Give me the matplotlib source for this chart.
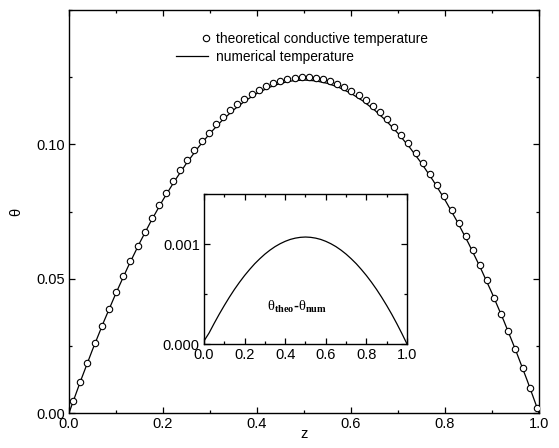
import matplotlib
matplotlib.use("Agg")
import matplotlib.pyplot as plt
from matplotlib.legend_handler import HandlerLine2D
from matplotlib.lines import Line2D
from matplotlib.ticker import FixedLocator, MultipleLocator

plt.rcParams["font.family"] = ["Liberation Sans", "DejaVu Sans"]
plt.rcParams["mathtext.fontset"] = "custom"
plt.rcParams["mathtext.rm"] = "Liberation Serif"
plt.rcParams["mathtext.bf"] = "Liberation Serif:bold"
plt.rcParams["mathtext.it"] = "Liberation Serif:italic"

# theoretical conductive profile (circles)
z_theo = [0.009, 0.024, 0.039, 0.055, 0.070, 0.085, 0.100, 0.115, 0.130, 0.146,
          0.161, 0.176, 0.191, 0.206, 0.222, 0.237, 0.252, 0.267, 0.282, 0.297,
          0.313, 0.328, 0.343, 0.358, 0.373, 0.389, 0.404, 0.419, 0.434, 0.449,
          0.464, 0.480, 0.495, 0.510, 0.525, 0.540, 0.556, 0.571, 0.586, 0.601,
          0.616, 0.631, 0.647, 0.662, 0.677, 0.692, 0.707, 0.722, 0.738, 0.753,
          0.768, 0.783, 0.798, 0.814, 0.829, 0.844, 0.859, 0.874, 0.889, 0.905,
          0.920, 0.935, 0.950, 0.965, 0.981, 0.996]
theta_theo = [0.00446, 0.01171, 0.01874, 0.02599, 0.03255, 0.03889, 0.04500, 0.05089,
              0.05655, 0.06234, 0.06754, 0.07251, 0.07726, 0.08178, 0.08636, 0.09042,
              0.09425, 0.09786, 0.10124, 0.10440, 0.10752, 0.11021, 0.11268, 0.11492,
              0.11694, 0.11884, 0.12039, 0.12172, 0.12282, 0.12370, 0.12435, 0.12480,
              0.12499, 0.12495, 0.12469, 0.12420, 0.12343, 0.12248, 0.12130, 0.11990,
              0.11827, 0.11642, 0.11420, 0.11188, 0.10934, 0.10657, 0.10358, 0.10036,
              0.09668, 0.09300, 0.08909, 0.08496, 0.08060, 0.07570, 0.07088, 0.06583,
              0.06056, 0.05506, 0.04934, 0.04299, 0.03680, 0.03039, 0.02375, 0.01689,
              0.00932, 0.00199]

# numerical solution and difference, sampled on the solver grid
z_num = [0.000, 0.025, 0.050, 0.075, 0.100, 0.125, 0.150, 0.175, 0.200, 0.225,
         0.250, 0.275, 0.300, 0.325, 0.350, 0.375, 0.400, 0.425, 0.450, 0.475,
         0.500, 0.525, 0.550, 0.575, 0.600, 0.625, 0.650, 0.675, 0.700, 0.725,
         0.750, 0.775, 0.800, 0.825, 0.850, 0.875, 0.900, 0.925, 0.950, 0.975, 1.000]
theta_num = [0.00000, 0.01208, 0.02355, 0.03439, 0.04462, 0.05422, 0.06320, 0.07157,
             0.07932, 0.08644, 0.09295, 0.09883, 0.10410, 0.10875, 0.11278, 0.11619,
             0.11897, 0.12114, 0.12269, 0.12362, 0.12393, 0.12362, 0.12269, 0.12114,
             0.11897, 0.11619, 0.11278, 0.10875, 0.10410, 0.09883, 0.09295, 0.08644,
             0.07932, 0.07157, 0.06320, 0.05422, 0.04462, 0.03439, 0.02355, 0.01208,
             0.00000]
theta_diff = [0.000030, 0.000110, 0.000206, 0.000298, 0.000385, 0.000468, 0.000546,
              0.000618, 0.000685, 0.000746, 0.000803, 0.000853, 0.000899, 0.000939,
              0.000974, 0.001003, 0.001027, 0.001046, 0.001059, 0.001067, 0.001070,
              0.001067, 0.001059, 0.001046, 0.001027, 0.001003, 0.000974, 0.000939,
              0.000899, 0.000853, 0.000803, 0.000746, 0.000685, 0.000618, 0.000546,
              0.000468, 0.000385, 0.000297, 0.000203, 0.000104, 0.000000]

main_xticks = [0.0, 0.2, 0.4, 0.6, 0.8, 1.0]
main_yticks = [0.00, 0.05, 0.10]
inset_yticks = [0.000, 0.001]


class RightMarkerHandler(HandlerLine2D):
    """Put the single legend marker near the right end of the handle."""

    def get_xdata(self, legend, xdescent, ydescent, width, height, fontsize):
        m = -xdescent + width - 0.15 * fontsize
        return [m - 1.0, m + 1.0], [m]


def style_axes(ax, fs):
    ax.tick_params(which="both", direction="in", top=True, right=True,
                   labelsize=fs, width=0.9, pad=3)
    ax.tick_params(which="major", length=4.5)
    ax.tick_params(which="minor", length=2.5)
    for sp in ax.spines.values():
        sp.set_linewidth(1.0)


fig = plt.figure(figsize=(5.59, 4.48), dpi=100)
ax = fig.add_axes([0.1234, 0.0781, 0.8408, 0.8996])

ax.plot(z_theo, theta_theo, linestyle="none", marker="o", markersize=4.6,
        markerfacecolor="white", markeredgecolor="black", markeredgewidth=0.8,
        zorder=3)
ax.plot(z_num, theta_num, color="black", linewidth=0.9, zorder=2)

ax.set_xlim(0, 1)
ax.set_ylim(0, 0.15)
ax.xaxis.set_major_locator(FixedLocator(main_xticks))
ax.xaxis.set_minor_locator(MultipleLocator(0.1))
ax.yaxis.set_major_locator(FixedLocator(main_yticks))
ax.yaxis.set_minor_locator(MultipleLocator(0.025))
ax.set_xticklabels([f"{v:.1f}" for v in main_xticks])
ax.set_yticklabels([f"{v:.2f}" for v in main_yticks])
style_axes(ax, 10.5)
ax.set_xlabel("z", fontsize=10.5, labelpad=-3)
ax.set_ylabel("θ", fontsize=10.5, labelpad=9)

h_theo = Line2D([], [], linestyle="none", marker="o", markersize=4.6,
                markerfacecolor="white", markeredgecolor="black", markeredgewidth=0.8)
h_num = Line2D([], [], color="black", linewidth=0.9)
ax.legend([h_theo, h_num],
          ["theoretical conductive temperature", "numerical temperature"],
          loc="upper left", bbox_to_anchor=(0.2277, 0.945), frameon=False,
          fontsize=9.9, handlelength=2.3, handletextpad=0.6, labelspacing=0.28,
          borderpad=0, borderaxespad=0, numpoints=1,
          handler_map={h_theo: RightMarkerHandler(numpoints=1)})

# inset: theoretical minus numerical
axi = fig.add_axes([0.3649, 0.2321, 0.3632, 0.3348])
axi.plot(z_num, theta_diff, color="black", linewidth=0.9)
axi.set_xlim(0, 1)
axi.set_ylim(0, 0.0015)
axi.xaxis.set_major_locator(FixedLocator(main_xticks))
axi.xaxis.set_minor_locator(MultipleLocator(0.1))
axi.yaxis.set_major_locator(FixedLocator(inset_yticks))
axi.yaxis.set_minor_locator(MultipleLocator(0.0005))
axi.set_xticklabels([f"{v:.1f}" for v in main_xticks])
axi.set_yticklabels([f"{v:.3f}" for v in inset_yticks])
style_axes(axi, 10.5)
axi.text(0.31, 0.00037,
         r"$\mathrm{θ}_{\mathbf{theo}}$" + "-" + r"$\mathrm{θ}_{\mathbf{num}}$",
         fontsize=10.5, fontweight="bold", va="center", ha="left")

fig.savefig("out.png", dpi=100)
